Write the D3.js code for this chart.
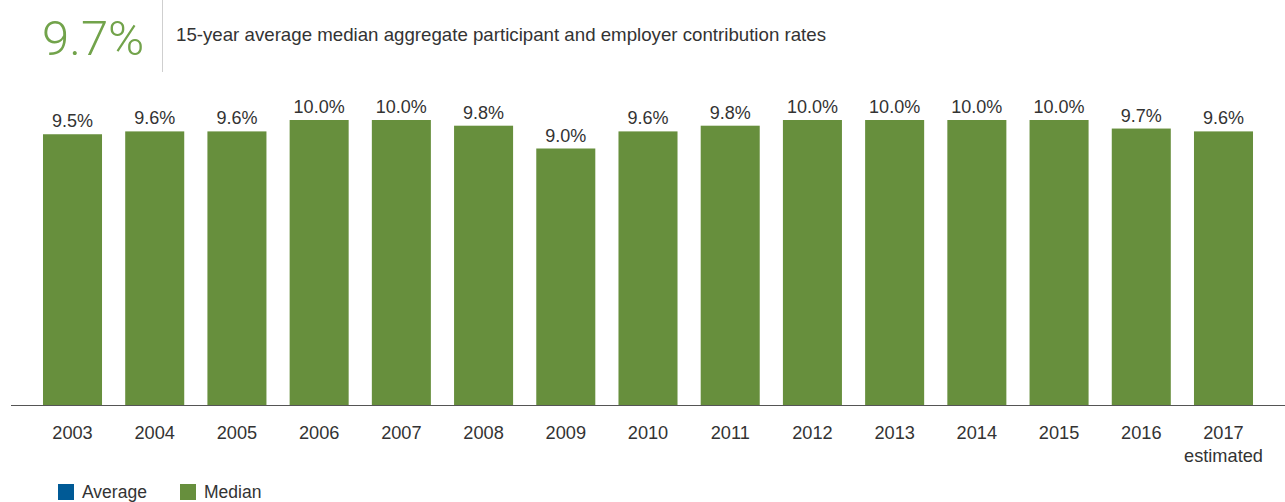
<!DOCTYPE html>
<html>
<head>
<meta charset="utf-8">
<script src="https://cdn.jsdelivr.net/npm/d3@7"></script>
<style>
  html, body { margin: 0; padding: 0; background: #fff; }
  svg { display: block; font-family: "Liberation Sans", Arial, sans-serif; }
</style>
</head>
<body>
<svg id="chart" width="1285" height="502"></svg>
<script>
// Median aggregate participant + employer contribution rate by year (%)
const years = ["2003", "2004", "2005", "2006", "2007", "2008", "2009", "2010",
               "2011", "2012", "2013", "2014", "2015", "2016", "2017"];
const yearNotes = ["", "", "", "", "", "", "", "", "", "", "", "", "", "", "estimated"];
const medianRates = [9.5, 9.6, 9.6, 10.0, 10.0, 9.8, 9.0, 9.6, 9.8, 10.0, 10.0, 10.0, 10.0, 9.7, 9.6];
const headlineValue = "9.7%";
const headlineText = "15-year average median aggregate participant and employer contribution rates";
const legendItems = ["Average", "Median"];
const legendColors = ["#005a96", "#678f3d"];

const svg = d3.select("#chart");
const barColor = "#678f3d";
const textColor = "#333333";

// Header: headline figure, divider, caption
svg.append("text")
  .attr("x", 42).attr("y", 55)
  .attr("fill", "#72a34b")
  .style("font-family", "Roboto, 'Liberation Sans', sans-serif")
  .style("font-weight", 300)
  .style("font-size", "49px")
  .text(headlineValue);

svg.append("line")
  .attr("x1", 162.5).attr("x2", 162.5)
  .attr("y1", 0).attr("y2", 72)
  .attr("stroke", "#cfcfcf").attr("stroke-width", 1);

svg.append("text")
  .attr("x", 176).attr("y", 41)
  .attr("fill", textColor)
  .attr("textLength", 650)
  .attr("lengthAdjust", "spacingAndGlyphs")
  .style("font-size", "18.2px")
  .text(headlineText);

// Scales
const x = d3.scaleBand()
  .domain(years)
  .range([31.4, 1264.6])
  .paddingInner(0.282)
  .paddingOuter(0.141);

const y = d3.scaleLinear()
  .domain([0, 10])
  .range([405, 120]);

// Bars
svg.append("g").selectAll("rect")
  .data(medianRates)
  .join("rect")
  .attr("x", (d, i) => x(years[i]))
  .attr("y", d => y(d))
  .attr("width", x.bandwidth())
  .attr("height", d => y(0) - y(d))
  .attr("fill", barColor);

// Value labels
svg.append("g").selectAll("text")
  .data(medianRates)
  .join("text")
  .attr("x", (d, i) => x(years[i]) + x.bandwidth() / 2)
  .attr("y", d => y(d) - 7)
  .attr("text-anchor", "middle")
  .attr("fill", textColor)
  .style("font-size", "18px")
  .text(d => d.toFixed(1) + "%");

// Category axis
const axis = svg.append("g")
  .attr("transform", `translate(0,${y(0)})`)
  .call(d3.axisBottom(x).tickSize(0).tickPadding(21));
axis.select(".domain").remove();
axis.selectAll(".tick text")
  .attr("fill", textColor)
  .style("font-family", "'Liberation Sans', Arial, sans-serif")
  .style("font-size", "18.2px");

axis.selectAll(".tick").each(function(d, i) {
  if (yearNotes[i]) {
    d3.select(this).append("text")
      .attr("y", 57)
      .attr("fill", textColor)
      .attr("text-anchor", "middle")
      .style("font-family", "'Liberation Sans', Arial, sans-serif")
      .style("font-size", "18.2px")
      .text(yearNotes[i]);
  }
});

svg.append("line")
  .attr("x1", 11).attr("x2", 1285)
  .attr("y1", y(0) + 0.5).attr("y2", y(0) + 0.5)
  .attr("stroke", "#555").attr("stroke-width", 1.2);

// Legend
const legendX = [58, 180];
const legend = svg.append("g").selectAll("g")
  .data(legendItems)
  .join("g")
  .attr("transform", (d, i) => `translate(${legendX[i]},484)`);
legend.append("rect")
  .attr("width", 16).attr("height", 16)
  .attr("fill", (d, i) => legendColors[i]);
legend.append("text")
  .attr("x", 24).attr("y", 14)
  .attr("fill", textColor)
  .style("font-size", "17.5px")
  .text(d => d);
</script>
</body>
</html>
